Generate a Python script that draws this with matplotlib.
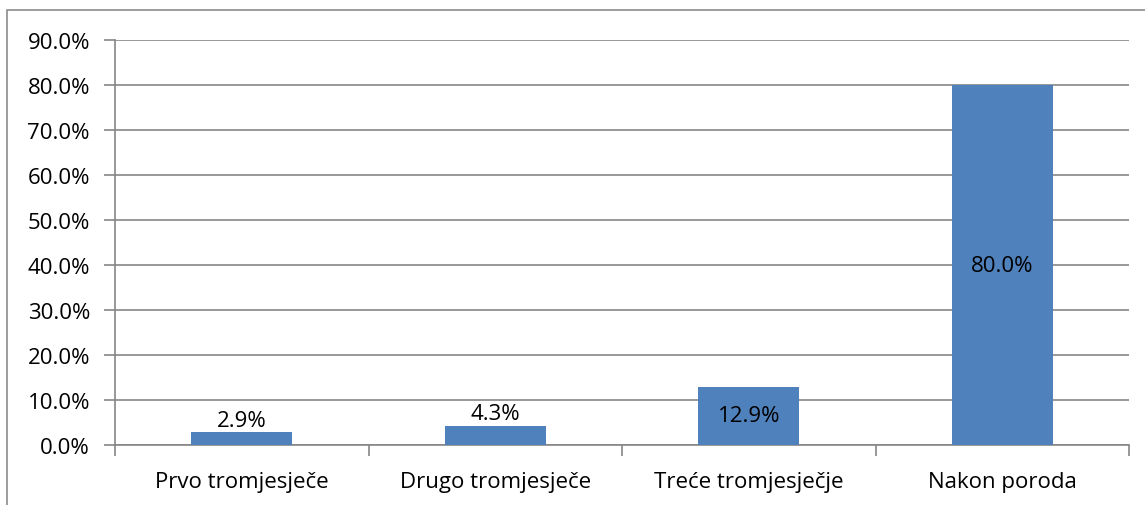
import matplotlib.pyplot as plt
from matplotlib.patches import Rectangle
import numpy as np

categories = ['Prvo tromjesječe', 'Drugo tromjesječe', 'Treće tromjesječje', 'Nakon poroda']
values = [2.9, 4.3, 12.9, 80.0]
yticks = [0, 10, 20, 30, 40, 50, 60, 70, 80, 90]

bar_color = '#4F81BD'
axis_color = '#868686'
fs = 16

plt.rcParams['font.family'] = ['Open Sans', 'DejaVu Sans']

fig = plt.figure(figsize=(11.45, 5.06), dpi=100)
ax = fig.add_axes([115 / 1145, 1 - 446 / 506, (1129 - 115) / 1145, (446 - 41) / 506])

# outer chart frame (only left and top edges show in the reference)
fig.patches.append(Rectangle((7 / 1145, -0.1), 1.2, 1 - 11 / 506 + 0.1,
                             transform=fig.transFigure, fill=False,
                             edgecolor='#8c8c8c', linewidth=1.2))

x = np.arange(len(categories))
ax.bar(x, values, width=0.4, color=bar_color, zorder=3)

for xi, v in zip(x, values):
    txt = f'{v:.1f}%'
    if v < 10:
        ax.annotate(txt, (xi, v), xytext=(0, 1), textcoords='offset points',
                    ha='center', va='bottom', fontsize=fs, zorder=4)
    else:
        ax.text(xi, v / 2, txt, ha='center', va='center', fontsize=fs, zorder=4)

ax.set_xlim(-0.5, len(categories) - 0.5)
ax.set_ylim(0, 90)
ax.set_yticks(yticks)
ax.set_yticklabels([f'{t:.1f}%' for t in yticks], fontsize=fs)
ax.yaxis.grid(True, color=axis_color, linewidth=1.2, zorder=0)

ax.set_xticks(x)
ax.set_xticklabels(categories, fontsize=fs)
ax.set_xticks(np.arange(len(categories) + 1) - 0.5, minor=True)
ax.tick_params(axis='x', which='major', length=0, pad=19)
ax.tick_params(axis='x', which='minor', length=8, width=1.2, color=axis_color)
ax.tick_params(axis='y', length=8, width=1.2, color=axis_color, pad=10)

for side in ['top', 'right']:
    ax.spines[side].set_visible(False)
for side in ['left', 'bottom']:
    ax.spines[side].set_color(axis_color)
    ax.spines[side].set_linewidth(1.2)

fig.savefig('out.png', dpi=100)
